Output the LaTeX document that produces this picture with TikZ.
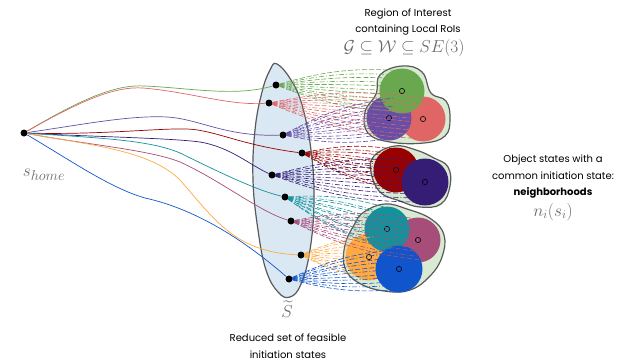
\documentclass[tikz,border=0pt]{standalone}
\usepackage{fontspec}
\setmainfont{Poppins}
\usepackage{amsmath}
\usepackage{amssymb}
\usepackage{xcolor}
\usetikzlibrary{calc}
\definecolor{roiGreen}{RGB}{106,168,79}
\definecolor{roiRed}{RGB}{224,102,102}
\definecolor{roiPurple}{RGB}{103,78,167}
\definecolor{roiDarkRed}{RGB}{153,0,0}
\definecolor{roiIndigo}{RGB}{53,28,117}
\definecolor{roiTeal}{RGB}{17,146,156}
\definecolor{roiPlum}{RGB}{166,77,121}
\definecolor{roiOrange}{RGB}{255,169,64}
\definecolor{roiBlue}{RGB}{17,85,204}
\definecolor{hoodFill}{RGB}{217,234,211}
\definecolor{setFill}{RGB}{218,232,244}
\definecolor{labelGray}{RGB}{105,105,105}
\tikzset{%
  statedot/.style={circle, fill=black, inner sep=0pt, minimum size=7pt},
  % local RoI with its centre marker
  roi/.style={circle, inner sep=0pt, minimum size=45pt,
    path picture={\draw[black, line width=0.6pt] (path picture bounding box.center) circle (2.6pt);}},
  hood/.style={draw=black!65, fill=hoodFill, line width=1.2pt},
  setregion/.style={draw=black!65, fill=setFill, line width=1.2pt},
  homepath/.style={line width=0.7pt},
  fandash/.style={line width=0.6pt, dash pattern=on 5pt off 2pt},
  fandashdot/.style={line width=0.6pt, dash pattern=on 5pt off 2pt on 1pt off 2pt},
  textlabel/.style={align=center, font=\fontsize{10}{16.5}\selectfont, inner sep=1pt},
  mathlabel/.style={text=labelGray, font=\fontsize{17.5}{20}\selectfont, inner sep=1pt}
}

\begin{document}
\begin{tikzpicture}[x=1pt, y=-1pt]
    \useasboundingbox (0,0) rectangle (624,362);

    %Set of feasible initiation states
    \draw[setregion] plot[smooth cycle, tension=0.7] coordinates {(277,64) (291,80) (302,105) (311,150) (314,200) (310,250) (301,284) (290,297) (278,292) (266,270) (258,230) (253,180) (255,130) (262,92) (270,70)};

    %Neighborhoods
    \draw[hood] plot[smooth cycle, tension=0.7] coordinates {(380,75) (402,66) (422,72) (431,93) (446,101) (450,119) (445,136) (424,143) (390,142) (368,133) (365,112) (376,94)};
    \draw[hood] plot[smooth cycle, tension=0.7] coordinates {(374,156) (395,146) (416,150) (434,158) (448,167) (450,186) (441,204) (420,207) (400,201) (380,192) (371,172)};
    \draw[hood] plot[smooth cycle, tension=0.7] coordinates {(364,212) (385,204) (407,209) (431,219) (444,235) (442,257) (430,276) (410,290) (384,291) (359,283) (345,268) (345,245) (354,225)};

    %Local RoIs
    \node[roi, fill=roiRed] (c2) at (423,119) {};
    \node[roi, fill=roiPurple] (c3) at (389,118) {};
    \node[roi, fill=roiGreen] (c1) at (402,91) {};
    \node[roi, fill=roiDarkRed] (c4) at (396,170) {};
    \node[roi, fill=roiIndigo, minimum size=47pt] (c5) at (425,182) {};
    \node[roi, fill=roiPlum] (c7) at (418,240) {};
    \node[roi, fill=roiOrange, minimum size=47pt] (c8) at (369,257) {};
    \node[roi, fill=roiTeal] (c6) at (387,229) {};
    \node[roi, fill=roiBlue, minimum size=47pt] (c9) at (399,269) {};

    %States
    \node[statedot] (home) at (24,133) {};
    \node[statedot] (d1) at (276,85) {};
    \node[statedot] (d2) at (269,103) {};
    \node[statedot] (d3) at (283,135) {};
    \node[statedot] (d4) at (302,153) {};
    \node[statedot] (d5) at (272,175) {};
    \node[statedot] (d6) at (285,197) {};
    \node[statedot] (d7) at (291,221) {};
    \node[statedot] (d8) at (301,255) {};
    \node[statedot] (d9) at (289,279) {};

    %Paths from home
    \draw[homepath, roiGreen] (home) .. controls (80,100) and (115,84) .. (145,86) .. controls (190,88) and (235,97) .. (d1);
    \draw[homepath, roiRed] (home) .. controls (80,101) and (115,86) .. (143,88) .. controls (190,92) and (230,106) .. (d2);
    \draw[homepath, roiPurple] (home) .. controls (80,125) and (130,115) .. (167,117) .. controls (200,119) and (225,137) .. (d3);
    \draw[homepath, roiDarkRed] (home) .. controls (100,135) and (160,128) .. (187,129) .. controls (215,130) and (240,145) .. (d4);
    \draw[homepath, roiIndigo] (home) .. controls (100,137) and (170,138) .. (200,142) .. controls (230,147) and (250,165) .. (d5);
    \draw[homepath, roiTeal] (home) .. controls (100,138) and (150,140) .. (180,153) .. controls (215,170) and (255,190) .. (d6);
    \draw[homepath, roiPlum] (home) .. controls (90,145) and (150,150) .. (180,162) .. controls (220,180) and (260,212) .. (d7);
    \draw[homepath, roiOrange] (home) .. controls (90,145) and (150,150) .. (180,180) .. controls (215,220) and (235,252) .. (d8);
    \draw[homepath, roiBlue] (home) .. controls (70,160) and (110,188) .. (145,198) .. controls (200,210) and (250,245) .. (d9);

    %Fans towards the RoIs
    \foreach \d/\c/\col in {d1/c1/roiGreen, d2/c2/roiRed, d3/c3/roiPurple, d4/c4/roiDarkRed, d5/c5/roiIndigo, d6/c6/roiTeal, d7/c7/roiPlum, d8/c8/roiOrange, d9/c9/roiBlue} {
        \foreach \dy [evaluate=\dy as \bnd using -\dy*0.5] in {-20,-12,-4,4,12,20}
            \draw[fandash, \col] (\d) to[bend left=\bnd] ($(\c)+(4,\dy)$);
        \foreach \dy [evaluate=\dy as \bnd using -\dy*0.5] in {-16,-8,0,8,16}
            \draw[fandashdot, \col] (\d) to[bend left=\bnd] ($(\c)+(-4,\dy)$);
    }

    %Labels
    \node[textlabel] (roiText) at (408,22) {Region of Interest\\containing Local RoIs};
    \node[mathlabel] (roiMath) at (404,48) {$\mathcal{G}\subseteq\mathcal{W}\subseteq SE(3)$};
    \node[textlabel] (hoodText) at (553,177) {Object states with a\\common initiation state:\\\textbf{neighborhoods}};
    \node[mathlabel] (hoodMath) at (553,212) {$n_i(s_i)$};
    \node[mathlabel] (homeLabel) at (44,175) {$s_{\mbox{\fontsize{14.5}{15}\selectfont$home$}}$};
    \node[mathlabel] (setMath) at (287,309) {$\widetilde{S}$};
    \node[textlabel] (setText) at (288,346) {Reduced set of feasible\\initiation states};
\end{tikzpicture}
\end{document}
